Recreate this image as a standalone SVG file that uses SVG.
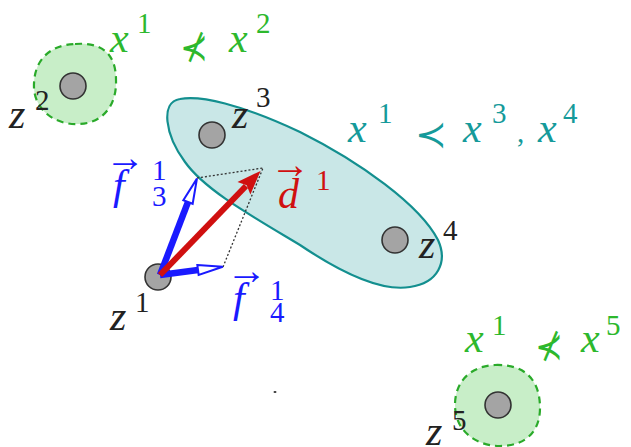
<svg xmlns="http://www.w3.org/2000/svg" width="631" height="447" viewBox="0 0 631 447">
<style>
.m{font-family:"Liberation Serif","DejaVu Serif",serif;font-style:italic;font-size:42px}
.s{font-family:"Liberation Serif","DejaVu Serif",serif;font-size:29px}
.r{font-family:"DejaVu Sans","Noto Sans",sans-serif;font-size:37px}
.ar{font-family:"Liberation Serif","DejaVu Serif",serif;font-size:40px}
.g{fill:#2db82d}
.t{fill:#159a9a}
.k{fill:#222}
.b{fill:#1a1aff}
.red{fill:#d01010}
.node{fill:#a4a4a4;stroke:#333;stroke-width:1.6}
.blob{fill:#c8eec8;stroke:#2aaa2a;stroke-width:2.2;stroke-dasharray:7,5}
.dot{fill:none;stroke:#333;stroke-width:1.3;stroke-dasharray:2,2}
</style>
<defs>
<marker id="openB" markerUnits="userSpaceOnUse" markerWidth="30" markerHeight="16" viewBox="0 -8 30 16" refX="0" refY="0" orient="auto" overflow="visible">
<path d="M0,-5 L25,0 L0,5 Z" fill="#fff" stroke="#1a1aff" stroke-width="2"/>
</marker>
<marker id="headR" markerUnits="userSpaceOnUse" markerWidth="30" markerHeight="20" viewBox="0 -10 30 20" refX="3" refY="0" orient="auto" overflow="visible">
<path d="M0,-9 L24,0 L0,9 L4,0 Z" fill="#d01010"/>
</marker>
</defs>

<g id="cluster-2">
<path class="blob" d="M75,44 C100,42 116,52 116,80 C117,108 100,124 78,124 C55,125 35,110 34,88 C33,62 48,45 75,44 Z"/>
</g>
<g id="cluster-5">
<path class="blob" d="M495,365 C525,364 540,380 540,408 C540,432 525,446 500,446 C475,446 455,430 455,405 C455,382 470,366 495,365 Z"/>
</g>
<g id="cluster-34">
<path d="M180,99 C200,95 240,104 300,132 C360,162 420,205 438,240 C448,262 438,283 410,287 C380,292 340,272 300,245 C250,215 205,190 185,162 C165,135 160,102 180,99 Z" fill="#c9e7e7" stroke="#138f8f" stroke-width="2.2"/>
</g>

<g id="node-z2"><circle class="node" cx="73" cy="86" r="13"/><text class="m k" x="9" y="128">z</text><text class="s k" x="35" y="110">2</text></g>
<g id="node-z3"><circle class="node" cx="212" cy="135" r="13"/><text class="m k" x="232" y="128">z</text><text class="s k" x="256" y="107">3</text></g>
<g id="node-z4"><circle class="node" cx="395" cy="240" r="13"/><text class="m k" x="419" y="258">z</text><text class="s k" x="443" y="240">4</text></g>
<g id="node-z5"><circle class="node" cx="498" cy="405" r="13"/><text class="m k" x="426" y="445">z</text><text class="s k" x="452" y="430">5</text></g>
<g id="node-z1"><circle class="node" cx="158" cy="277" r="13"/><text class="m k" x="110" y="330">z</text><text class="s k" x="135" y="312">1</text></g>

<g id="connectors">
<line class="dot" x1="197" y1="178" x2="263" y2="168"/>
<line class="dot" x1="223" y1="267" x2="263" y2="168"/>
<line x1="160" y1="275" x2="188" y2="202" stroke="#1a1aff" stroke-width="6.5" marker-end="url(#openB)"/>
<line x1="160" y1="275" x2="198" y2="270" stroke="#1a1aff" stroke-width="6.5" marker-end="url(#openB)"/>
<line x1="160" y1="275" x2="246" y2="186" stroke="#d01010" stroke-width="6" marker-end="url(#headR)"/>
</g>

<g id="label-f3">
<text class="ar b" x="105" y="171" textLength="40" lengthAdjust="spacingAndGlyphs">→</text>
<text class="m b" x="113" y="199">f</text><text class="s b" x="152" y="180">1</text><text class="s b" x="152" y="206">3</text>
</g>
<g id="label-f4">
<text class="ar b" x="226" y="284" textLength="41" lengthAdjust="spacingAndGlyphs">→</text>
<text class="m b" x="233" y="312">f</text><text class="s b" x="270" y="300">1</text><text class="s b" x="270" y="322">4</text>
</g>
<g id="label-d">
<text class="ar red" x="270" y="178" textLength="40" lengthAdjust="spacingAndGlyphs">→</text>
<text class="m red" x="278" y="208">d</text><text class="s red" x="316" y="190">1</text>
</g>

<g id="label-rel12">
<text class="r g" x="180" y="60" textLength="28" lengthAdjust="spacingAndGlyphs">⊀</text>
<text class="m g" x="110" y="52">x</text><text class="s g" x="137" y="33">1</text>
<text class="m g" x="229" y="52">x</text><text class="s g" x="256" y="33">2</text>
</g>
<g id="label-rel134">
<text class="r t" x="415" y="147" textLength="32" lengthAdjust="spacingAndGlyphs">≺</text>
<text class="m t" x="348" y="142">x</text><text class="s t" x="378" y="123">1</text>
<text class="m t" x="463" y="142">x</text><text class="s t" x="492" y="123">3</text>
<text class="s t" x="517" y="142">,</text>
<text class="m t" x="538" y="142">x</text><text class="s t" x="563" y="123">4</text>
</g>
<g id="label-rel15">
<text class="r g" x="535" y="359" textLength="28" lengthAdjust="spacingAndGlyphs">⊀</text>
<text class="m g" x="465" y="352">x</text><text class="s g" x="492" y="335">1</text>
<text class="m g" x="581" y="352">x</text><text class="s g" x="606" y="335">5</text>
</g>
<ellipse cx="275" cy="392" rx="1.5" ry="1" fill="#333"/>
</svg>
